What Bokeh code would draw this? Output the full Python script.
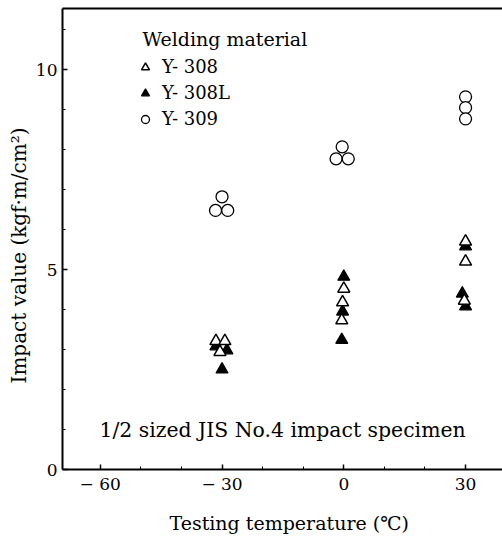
from bokeh.plotting import figure
from bokeh.models import (Range1d, SingleIntervalTicker, LinearAxis, FixedTicker,
                          Legend, LegendItem, Label, Title)
from bokeh.embed import file_html
from bokeh.resources import INLINE

# Charpy impact values (kgf·m/cm²) of three welding materials at each test temperature.
# Temperatures carry the small sideways spread used to keep overlapping specimens apart.
y308_temp = [-31.5, -29.3, -30.5, 0.0, -0.3, -0.5, 30.0, 30.0, 29.7]
y308_val = [3.21, 3.21, 2.94, 4.52, 4.18, 3.73, 5.70, 5.20, 4.22]

y308l_temp = [-31.5, -28.8, -30.0, 0.0, -0.3, -0.5, 30.0, 29.2, 30.0]
y308l_val = [3.08, 2.98, 2.50, 4.82, 3.95, 3.24, 5.58, 4.40, 4.08]

y309_temp = [-30.0, -31.6, -28.6, -0.4, -1.9, 1.1, 30.0, 30.0, 30.0]
y309_val = [6.82, 6.48, 6.48, 8.07, 7.77, 7.77, 9.32, 9.05, 8.77]

x_tick_labels = {-60: "\u2212 60", -30: "\u2212 30", 0: "0", 30: "30"}
series_names = ["Y- 308", "Y- 308L", "Y- 309"]

FONT = "DejaVu Serif"

p = figure(width=502, height=536, output_backend="svg", toolbar_location=None,
           x_range=Range1d(-69.3, 39.1), y_range=Range1d(0, 11.53),
           min_border_left=62, min_border_right=0, min_border_top=8, min_border_bottom=66)
p.outline_line_color = None
p.grid.visible = False
p.background_fill_color = "white"
p.border_fill_color = "white"

# axes: ticks point into the frame
p.xaxis.ticker = SingleIntervalTicker(interval=30, num_minor_ticks=3)
p.xaxis.major_label_overrides = x_tick_labels
p.yaxis.ticker = SingleIntervalTicker(interval=5, num_minor_ticks=5)
for ax in (p.xaxis[0], p.yaxis[0]):
    ax.axis_line_width = 2
    ax.axis_line_color = "black"
    ax.major_tick_in = 5
    ax.major_tick_out = 0
    ax.minor_tick_in = 3
    ax.minor_tick_out = 0
    ax.major_tick_line_width = 1.5
    ax.major_label_text_font = FONT
    ax.major_label_text_font_size = "17px"
    ax.major_label_text_color = "black"
p.xaxis.major_label_standoff = 4
p.yaxis.major_label_standoff = 5

# x title: the leading en + thin space sets it a little right of the frame centre
p.xaxis.axis_label = "\u2002\u2009Testing temperature (\u2103)"
p.xaxis.axis_label_standoff = 15
p.xaxis.axis_label_text_font = FONT
p.xaxis.axis_label_text_font_size = "19px"
p.xaxis.axis_label_text_font_style = "normal"
p.xaxis.axis_label_text_color = "black"

# y title as a side-panel title so it can be nudged along the axis
p.add_layout(Title(text="Impact value (kgf\u00b7m/cm\u00b2)", align="left", offset=86,
                   standoff=4, text_font=FONT, text_font_size="20px",
                   text_font_style="normal", text_color="black"), "left")

# top border line
top = LinearAxis(ticker=FixedTicker(ticks=[]), axis_line_width=2,
                 major_label_text_font_size="0px")
p.add_layout(top, "above")

r_308l = p.scatter(y308l_temp, y308l_val, marker="triangle", size=12,
                   fill_color="black", line_color="black", line_width=1.2)
r_308 = p.scatter(y308_temp, y308_val, marker="triangle", size=12,
                  fill_color="white", line_color="black", line_width=1.5)
r_309 = p.scatter(y309_temp, y309_val, marker="circle", size=12,
                  fill_color="white", line_color="black", line_width=1.3)

legend = Legend(items=[LegendItem(label=series_names[0], renderers=[r_308]),
                       LegendItem(label=series_names[1], renderers=[r_308l]),
                       LegendItem(label=series_names[2], renderers=[r_309])],
                location=(73, 340), orientation="vertical",
                padding=0, margin=0, spacing=5,
                glyph_width=20, glyph_height=20, label_height=20,
                label_standoff=7,
                label_text_font=FONT, label_text_font_size="18px",
                label_text_color="black",
                border_line_color=None, background_fill_alpha=0)
p.add_layout(legend, "center")

p.add_layout(Label(x=-49.6, y=10.76, text="Welding material", text_font=FONT,
                   text_font_size="19px", text_baseline="middle", text_align="left",
                   text_color="black"))
p.add_layout(Label(x=-60.2, y=0.99, text="1/2 sized JIS No.4 impact specimen",
                   text_font=FONT, text_font_size="20.4px", text_baseline="middle",
                   text_align="left", text_color="black"))

open("out.html", "w").write(file_html(p, INLINE))
